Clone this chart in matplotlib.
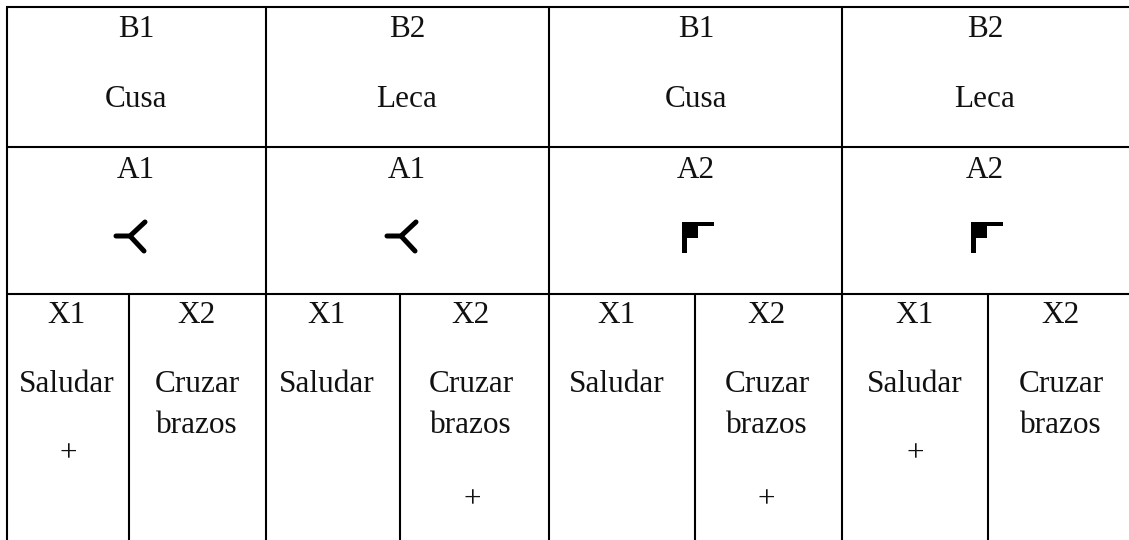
import matplotlib
matplotlib.use("Agg")
import matplotlib.pyplot as plt
from matplotlib.patches import Polygon

plt.rcParams['font.family'] = ['Liberation Serif', 'DejaVu Serif']

#Textos de la tabla
bloques = ["B1", "B2", "B1", "B2"]
nombres = ["Cusa", "Leca", "Cusa", "Leca"]
estimulos = ["A1", "A1", "A2", "A2"]
formas = ["y", "y", "l", "l"]
respuestas = ["X1", "X2"]
accion_x1 = "Saludar"
accion_x2 = ["Cruzar", "brazos"]
#Donde va el + : 0 = X1, 1 = X2
refuerzo = [0, 1, 1, 0]

#Lineas
xs_grupo = [7, 266, 549, 842]
xs_medio = [128.5, 400, 695, 988]
filas = [6.5, 146.5, 293.5]

#Centros de texto
xs_centro = [136, 407, 696, 985]
xs_x1 = [67, 327, 617, 915]
xs_x2 = [197, 471, 767, 1061]
xs_plus = [68, 472, 766, 915]

fig = plt.figure(figsize=(11.29, 5.40), dpi=100)
ax = fig.add_axes([0, 0, 1, 1])
ax.set_xlim(0, 1129)
ax.set_ylim(540, 0)
ax.axis("off")

lw = 1.5
for y in filas:
	ax.plot([6, 1129], [y, y], color="black", lw=lw, solid_capstyle="butt")
for x in xs_grupo:
	ax.plot([x, x], [filas[0], 540], color="black", lw=lw, solid_capstyle="butt")
for x in xs_medio:
	ax.plot([x, x], [filas[2], 540], color="black", lw=lw, solid_capstyle="butt")

fs = 22.5
def texto(x, y, s, **kw):
	ax.text(x, y, s, ha="center", va="baseline", fontsize=fs, color="#111111", **kw)

for i in range(4):
	texto(xs_centro[i], 37, bloques[i])
	texto(xs_centro[i], 107, nombres[i])
	texto(xs_centro[i], 178, estimulos[i])
	texto(xs_x1[i], 323, respuestas[0])
	texto(xs_x2[i], 323, respuestas[1])
	texto(xs_x1[i], 392, accion_x1)
	texto(xs_x2[i], 392, accion_x2[0])
	texto(xs_x2[i], 433, accion_x2[1])
	if refuerzo[i] == 0:
		texto(xs_plus[i], 461, "+")
	else:
		texto(xs_plus[i], 507, "+")

#Simbolos
for cx, tipo in zip(xs_centro, formas):
	if tipo == "y":
		ax.plot([cx - 20, cx - 6, cx + 9], [236, 236, 222], color="black", lw=3.6, solid_capstyle="round", solid_joinstyle="miter")
		ax.plot([cx - 6, cx + 8], [236, 251], color="black", lw=3.6, solid_capstyle="round")
	else:
		ax.add_patch(Polygon([(cx - 14, 221.5), (cx + 18, 221.5), (cx + 18, 226), (cx + 2, 226), (cx + 2, 238),
			(cx - 9, 238), (cx - 9, 253), (cx - 14, 253)], closed=True, facecolor="black", edgecolor="none"))

fig.savefig("out.png", dpi=100)
